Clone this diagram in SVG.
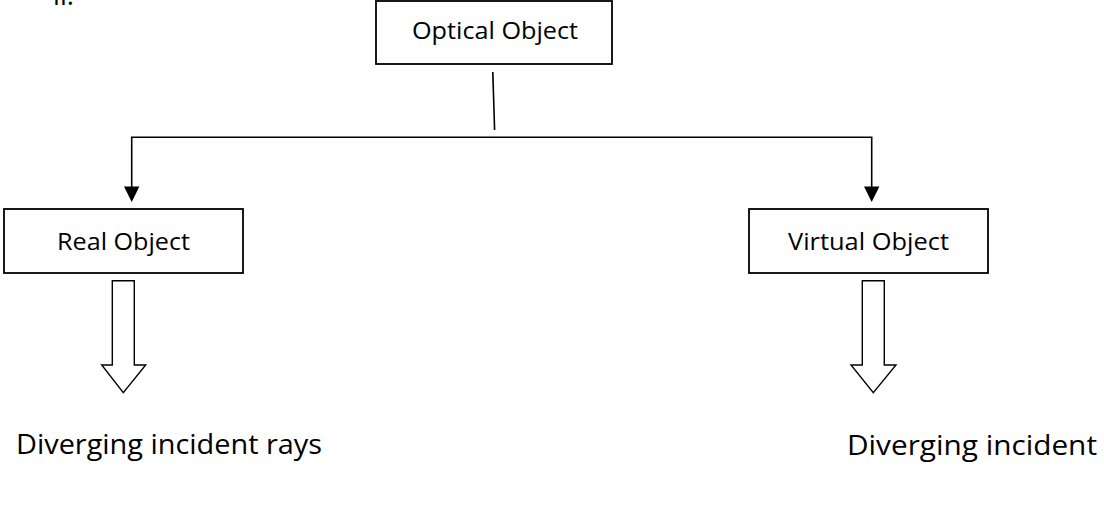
<svg xmlns="http://www.w3.org/2000/svg" width="1104" height="517" viewBox="0 0 1104 517">
<style>
.box{fill:#fff;stroke:#000;stroke-width:1.8}
.lbl{font-family:"Open Sans","Liberation Sans",sans-serif;font-size:24.5px;fill:#000}
.big{font-family:"Open Sans","Liberation Sans",sans-serif;font-size:27px;fill:#000}
.ln{fill:none;stroke:#000;stroke-width:1.6}
.hollow{fill:#fff;stroke:#000;stroke-width:1.4;stroke-linejoin:miter}
</style>
<rect width="1104" height="517" fill="#fff"/>
<text class="big" x="53" y="4.5" textLength="21" lengthAdjust="spacingAndGlyphs">ii.</text>
<g id="optical">
<rect class="box" x="376" y="1" width="236" height="63"/>
<text class="lbl" x="412" y="39" textLength="166" lengthAdjust="spacingAndGlyphs">Optical Object</text>
</g>
<g id="real">
<rect class="box" x="4" y="209" width="239" height="64"/>
<text class="lbl" x="57" y="249.5" textLength="133" lengthAdjust="spacingAndGlyphs">Real Object</text>
</g>
<g id="virtual">
<rect class="box" x="749" y="209" width="239" height="64"/>
<text class="lbl" x="788" y="249.5" textLength="161" lengthAdjust="spacingAndGlyphs">Virtual Object</text>
</g>
<g id="real-result">
<text class="big" x="16" y="454" textLength="306" lengthAdjust="spacingAndGlyphs">Diverging incident rays</text>
</g>
<g id="virtual-result">
<text class="big" x="847" y="455" textLength="250" lengthAdjust="spacingAndGlyphs">Diverging incident</text>
</g>
<g id="connectors">
<line class="ln" x1="492.8" y1="72" x2="494.6" y2="130"/>
<polyline class="ln" points="131.7,196 131.7,137.3 871.7,137.3 871.7,196"/>
<path d="M124,186.5 L139.4,186.5 L131.7,202 Z" fill="#000"/>
<path d="M864,186.5 L879.4,186.5 L871.7,202 Z" fill="#000"/>
<path class="hollow" d="M112.3,280.7 L134.3,280.7 L134.3,365 L145.7,365 L123.3,392.7 L101.7,365 L112.3,365 Z"/>
<path class="hollow" d="M862.3,280.7 L884.3,280.7 L884.3,365 L896,365 L873.3,392.7 L851,365 L862.3,365 Z"/>
</g>
</svg>
